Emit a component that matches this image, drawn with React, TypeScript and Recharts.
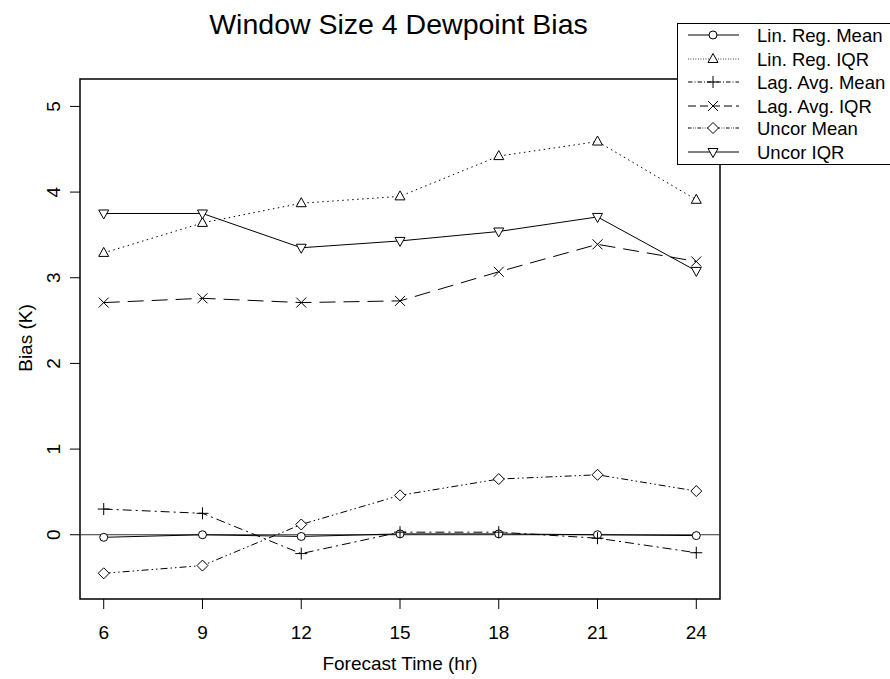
import React from "react";
import {
  LineChart,
  Line,
  XAxis,
  YAxis,
  ReferenceLine,
  ReferenceArea,
} from "recharts";

const hours = [6, 9, 12, 15, 18, 21, 24];
const linRegMean = [-0.03, 0.0, -0.02, 0.01, 0.01, 0.0, -0.01];
const linRegIQR = [3.29, 3.64, 3.87, 3.95, 4.42, 4.59, 3.91];
const lagAvgMean = [0.3, 0.25, -0.22, 0.03, 0.03, -0.04, -0.21];
const lagAvgIQR = [2.71, 2.76, 2.71, 2.73, 3.07, 3.39, 3.19];
const uncorMean = [-0.45, -0.36, 0.12, 0.46, 0.65, 0.7, 0.51];
const uncorIQR = [3.75, 3.75, 3.35, 3.43, 3.54, 3.71, 3.08];

const yTicks = [0, 1, 2, 3, 4, 5];
const title = "Window Size 4 Dewpoint Bias";
const xLabel = "Forecast Time (hr)";
const yLabel = "Bias (K)";

const FONT = '"Liberation Sans", Arial, Helvetica, sans-serif';

type Kind = "circle" | "triUp" | "plus" | "cross" | "diamond" | "triDown";

const seriesDefs: { key: string; name: string; values: number[]; kind: Kind; dash?: string }[] = [
  { key: "linRegMean", name: "Lin. Reg. Mean", values: linRegMean, kind: "circle" },
  { key: "linRegIQR", name: "Lin. Reg. IQR", values: linRegIQR, kind: "triUp", dash: "1.5 3.5" },
  { key: "lagAvgMean", name: "Lag. Avg. Mean", values: lagAvgMean, kind: "plus", dash: "9 4 2 4" },
  { key: "lagAvgIQR", name: "Lag. Avg. IQR", values: lagAvgIQR, kind: "cross", dash: "16 8" },
  { key: "uncorMean", name: "Uncor Mean", values: uncorMean, kind: "diamond", dash: "7 3 1.5 3 1.5 3" },
  { key: "uncorIQR", name: "Uncor IQR", values: uncorIQR, kind: "triDown" },
];

const data = hours.map((h, i) => {
  const row: Record<string, number> = { hour: h };
  seriesDefs.forEach((s) => {
    row[s.key] = s.values[i];
  });
  return row;
});

function Marker({ kind, cx, cy }: { kind: Kind; cx: number; cy: number }) {
  const st = { stroke: "#000", strokeWidth: 1, fill: "#fff" };
  switch (kind) {
    case "circle":
      return <circle cx={cx} cy={cy} r={4} {...st} />;
    case "triUp":
      return (
        <polygon
          points={`${cx},${cy - 5.5} ${cx - 5},${cy + 3.5} ${cx + 5},${cy + 3.5}`}
          {...st}
        />
      );
    case "triDown":
      return (
        <polygon
          points={`${cx},${cy + 5.5} ${cx - 5},${cy - 3.5} ${cx + 5},${cy - 3.5}`}
          {...st}
        />
      );
    case "diamond":
      return (
        <polygon
          points={`${cx},${cy - 5.5} ${cx + 5.5},${cy} ${cx},${cy + 5.5} ${cx - 5.5},${cy}`}
          {...st}
        />
      );
    case "plus":
      return (
        <g stroke="#000" strokeWidth={1}>
          <line x1={cx - 6} y1={cy} x2={cx + 6} y2={cy} />
          <line x1={cx} y1={cy - 6} x2={cx} y2={cy + 6} />
        </g>
      );
    case "cross":
      return (
        <g stroke="#000" strokeWidth={1}>
          <line x1={cx - 5} y1={cy - 5} x2={cx + 5} y2={cy + 5} />
          <line x1={cx - 5} y1={cy + 5} x2={cx + 5} y2={cy - 5} />
        </g>
      );
  }
  return null;
}

function LegendBox() {
  const rowY = [12, 36, 59, 83, 105, 129];
  return (
    <svg width={213} height={143} style={{ display: "block", overflow: "hidden" }}>
      <rect x={0.5} y={0.5} width={240} height={141} fill="#fff" stroke="#000" strokeWidth={1} />
      {seriesDefs.map((s, i) => (
        <g key={s.key}>
          <line
            x1={11}
            x2={62}
            y1={rowY[i]}
            y2={rowY[i]}
            stroke="#000"
            strokeWidth={1}
            strokeDasharray={s.dash ? s.dash.split(" ").map((v) => String(Number(v) * 0.5)).join(" ") : undefined}
          />
          <Marker kind={s.kind} cx={36} cy={rowY[i]} />
          <text
            x={80}
            y={rowY[i] + 6.5}
            fontFamily={FONT}
            fontSize={18.5}
            fill="#000"
          >
            {s.name}
          </text>
        </g>
      ))}
    </svg>
  );
}

const XTick = (p: any) => (
  <text
    x={p.x}
    y={639}
    textAnchor="middle"
    fontFamily={FONT}
    fontSize={19}
    fill="#000"
  >
    {p.payload.value}
  </text>
);

const YTick = (p: any) => (
  <text
    x={60}
    y={p.y}
    transform={`rotate(-90 60 ${p.y})`}
    textAnchor="middle"
    fontFamily={FONT}
    fontSize={19}
    fill="#000"
  >
    {p.payload.value}
  </text>
);

export default function App() {
  return (
    <div style={{ position: "absolute", left: 0, top: 0, width: 890, height: 679, background: "#fff" }}>
      <LineChart
        width={890}
        height={679}
        data={data}
        margin={{ top: 79, right: 170, bottom: 0, left: 0 }}
        style={{ fontFamily: FONT }}
      >
        <XAxis
          dataKey="hour"
          type="number"
          domain={[5.28, 24.72]}
          ticks={hours}
          allowDataOverflow
          height={80}
          axisLine={false}
          tickSize={10}
          tickLine={{ stroke: "#000", strokeWidth: 1 }}
          tick={XTick}
          interval={0}
          label={() => (
            <text
              x={400}
              y={670}
              textAnchor="middle"
              fontFamily={FONT}
              fontSize={19}
              fill="#000"
            >
              {xLabel}
            </text>
          )}
        />
        <YAxis
          type="number"
          domain={[-0.75, 5.32]}
          ticks={yTicks}
          allowDataOverflow
          width={80}
          axisLine={false}
          tickSize={10}
          tickLine={{ stroke: "#000", strokeWidth: 1 }}
          tick={YTick}
          interval={0}
          label={() => (
            <text
              x={32}
              y={338}
              transform="rotate(-90 32 338)"
              textAnchor="middle"
              fontFamily={FONT}
              fontSize={19}
              fill="#000"
            >
              {yLabel}
            </text>
          )}
        />
        <ReferenceArea
          x1={5.28}
          x2={24.72}
          y1={-0.75}
          y2={5.32}
          fill="none"
          fillOpacity={0}
          stroke="#000"
          strokeWidth={1.5}
          ifOverflow="visible"
        />
        <ReferenceLine y={0} stroke="#333" strokeWidth={1} />
        {seriesDefs.map((s) => (
          <Line
            key={s.key}
            dataKey={s.key}
            name={s.name}
            type="linear"
            stroke="#000"
            strokeWidth={1}
            strokeDasharray={s.dash}
            isAnimationActive={false}
            dot={(p: any) => <Marker key={`${s.key}-${p.index}`} kind={s.kind} cx={p.cx} cy={p.cy} />}
            activeDot={false}
          />
        ))}
      </LineChart>
      <div style={{ position: "absolute", left: 677, top: 23, width: 213, height: 143 }}>
        <LegendBox />
      </div>
      <div
        style={{
          position: "absolute",
          left: 0,
          top: 0,
          width: 797,
          textAlign: "center",
          fontFamily: FONT,
          fontSize: 28.5,
          lineHeight: "28.5px",
          paddingTop: 10,
          color: "#000",
          pointerEvents: "none",
        }}
      >
        {title}
      </div>
    </div>
  );
}
